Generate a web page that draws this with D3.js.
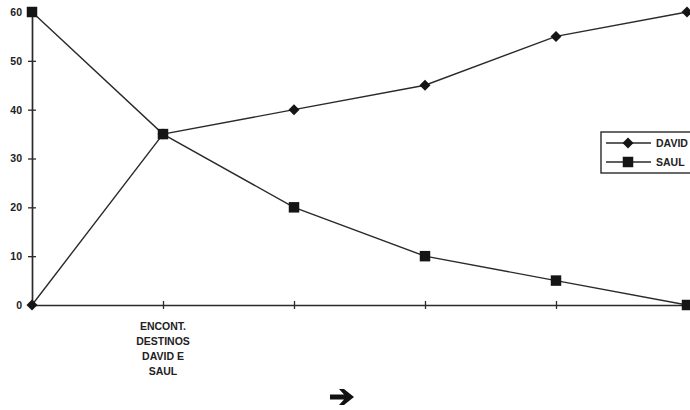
<!DOCTYPE html>
<html>
<head>
<meta charset="utf-8">
<script src="https://cdn.jsdelivr.net/npm/d3@7"></script>
<style>
  html, body { margin: 0; padding: 0; background: #fff; }
  svg { display: block; }
  text { font-family: "Liberation Sans", Arial, sans-serif; font-weight: bold; fill: #222; }
</style>
</head>
<body>
<svg id="chart" width="690" height="410"></svg>
<script>
// Stages along the story; only the meeting point carries a label
const categories = ["s0", "s1", "s2", "s3", "s4", "s5"];
const categoryLabels = ["", "ENCONT.\nDESTINOS\nDAVID E\nSAUL", "", "", "", ""];
const davidValues = [0, 35, 40, 45, 55, 60];
const saulValues = [60, 35, 20, 10, 5, 0];
const yTicks = [0, 10, 20, 30, 40, 50, 60];
const seriesNames = ["DAVID", "SAUL"];

const svg = d3.select("#chart");
const margin = { left: 32, top: 12, right: 3, bottom: 105 };
const W = 690, H = 410;

const x = d3.scalePoint().domain(categories).range([margin.left, W - margin.right]);
const y = d3.scaleLinear().domain([0, 60]).range([H - margin.bottom, margin.top]);

const ink = "#2a2a2a";

// Y axis
const yAxis = svg.append("g").attr("transform", `translate(${margin.left},0)`)
  .call(d3.axisLeft(y).tickValues(yTicks).tickSize(4).tickPadding(6).tickFormat(d3.format("d")));
yAxis.select(".domain").attr("stroke", ink).attr("stroke-width", 1.7);
yAxis.selectAll(".tick line").attr("stroke", ink).attr("stroke-width", 1.3).attr("x2", 4).attr("x1", -4);
yAxis.selectAll(".tick text").attr("font-size", 10.5).attr("x", -10)
  .style("font-family", "Liberation Sans, Arial, sans-serif").style("font-weight", "bold").attr("fill", "#222");

// X axis
const xAxis = svg.append("g").attr("transform", `translate(0,${y(0)})`)
  .call(d3.axisBottom(x).tickSize(4).tickFormat(""));
xAxis.select(".domain").attr("stroke", ink).attr("stroke-width", 1.7);
xAxis.selectAll(".tick line").attr("stroke", ink).attr("stroke-width", 1.3).attr("y1", -4).attr("y2", 4)
  .attr("display", (d, i) => (i === 0 || i === categories.length - 1) ? "none" : null);

// Multi-line category labels
categories.forEach((c, i) => {
  const lines = categoryLabels[i] ? categoryLabels[i].split("\n") : [];
  const t = svg.append("text").attr("text-anchor", "middle").attr("font-size", 10.5)
    .attr("x", x(c)).attr("y", y(0) + 25);
  lines.forEach((ln, k) => t.append("tspan").attr("x", x(c)).attr("dy", k === 0 ? 0 : 15).text(ln));
});

// Series lines
const line = d3.line().x((d, i) => x(categories[i])).y(d => y(d));
svg.append("path").datum(davidValues).attr("d", line).attr("fill", "none").attr("stroke", ink).attr("stroke-width", 1.4);
svg.append("path").datum(saulValues).attr("d", line).attr("fill", "none").attr("stroke", ink).attr("stroke-width", 1.4);

// Markers: square diamonds for DAVID, squares for SAUL
const diamond = "M0,-5.5L5.5,0L0,5.5L-5.5,0Z";
const square = d3.symbol().type(d3.symbolSquare).size(110)();

svg.append("g").selectAll("path").data(davidValues).join("path")
  .attr("d", diamond).attr("fill", "#151515")
  .attr("transform", (d, i) => `translate(${x(categories[i])},${y(d)})`);
svg.append("g").selectAll("path").data(saulValues).join("path")
  .attr("d", square).attr("fill", "#151515")
  .attr("transform", (d, i) => `translate(${x(categories[i])},${y(d)})`);

// Legend
const lg = svg.append("g").attr("transform", "translate(601,132)");
lg.append("rect").attr("width", 100).attr("height", 41).attr("fill", "#fff").attr("stroke", ink).attr("stroke-width", 1.4);
seriesNames.forEach((name, i) => {
  const yy = 11 + i * 19;
  lg.append("line").attr("x1", 5).attr("x2", 50).attr("y1", yy).attr("y2", yy).attr("stroke", ink).attr("stroke-width", 1.4);
  lg.append("path").attr("d", i === 0 ? diamond : square).attr("fill", "#151515").attr("transform", `translate(27,${yy})`);
  lg.append("text").attr("x", 55).attr("y", yy + 4).attr("font-size", 10.5).text(name);
});

// Direction arrow under the axis
const arrow = svg.append("g").attr("transform", "translate(342,397)");
arrow.append("path")
  .attr("d", "M-12,-2.5 L2,-2.5 L-3,-8 L2,-8 L12,0 L2,8 L-3,8 L2,2.5 L-12,2.5 Z")
  .attr("fill", "#111");
</script>
</body>
</html>
